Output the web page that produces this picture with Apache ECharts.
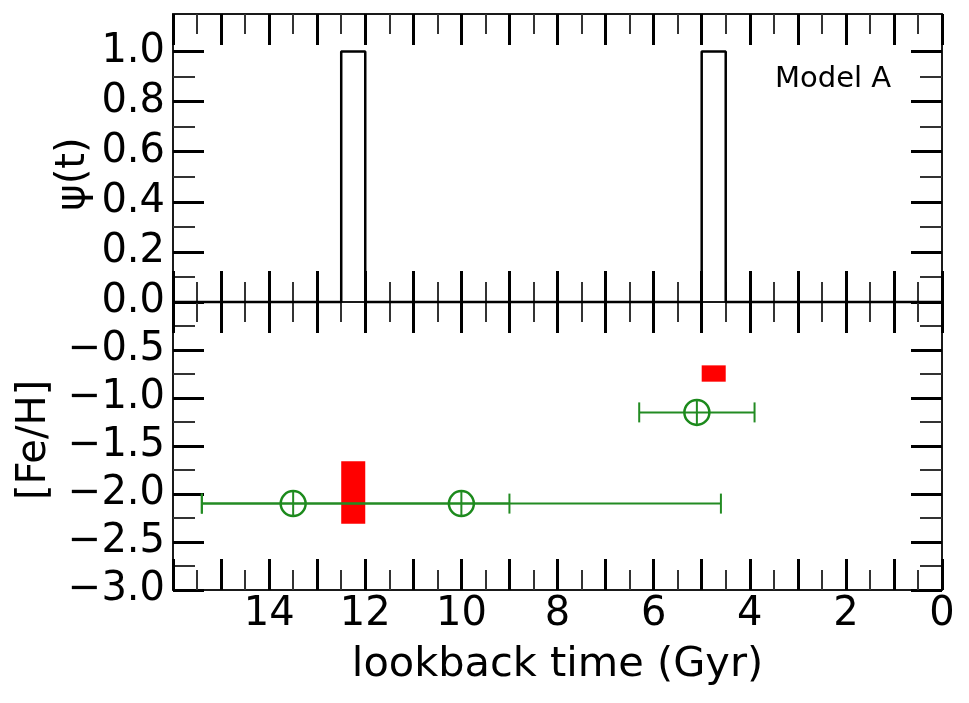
<!DOCTYPE html>
<html>
<head>
<meta charset="utf-8">
<script src="https://cdn.jsdelivr.net/npm/echarts@6/dist/echarts.min.js"></script>
<style>
html,body{margin:0;padding:0;background:#fff;}
#chart{width:969px;height:703px;}
</style>
</head>
<body>
<div id="chart"></div>
<script>
// ---- data ----
const ageMin = 0, ageMax = 16;
const ageTickLabels = [0, 2, 4, 6, 8, 10, 12, 14];
const psiMajorTicks = [0, 0.2, 0.4, 0.6, 0.8, 1.0];
const psiMinorTicks = [0.1, 0.3, 0.5, 0.7, 0.9];
const psiMax = 1.15;
const fehMin = -3.0, fehMax = 0.0;

// star-formation bursts (top panel)
const burstStart = [12.0, 4.5];
const burstEnd = [12.5, 5.0];
const burstHeight = [1.0, 1.0];

// model [Fe/H] boxes (red)
const boxAgeLo = [12.0, 4.5];
const boxAgeHi = [12.5, 5.0];
const boxFehLo = [-2.31, -0.83];
const boxFehHi = [-1.66, -0.66];

// observed populations (green)
const obsAge = [13.5, 10.0, 5.1];
const obsFeh = [-2.10, -2.10, -1.15];
const obsAgeLo = [9.0, 4.6, 3.9];
const obsAgeHi = [15.4, 15.4, 6.3];

// ---- build series data ----
const stepData = [[ageMax, 0]];
for (let i = 0; i < burstStart.length; i++) {
  stepData.push([burstEnd[i], 0], [burstEnd[i], burstHeight[i]], [burstStart[i], burstHeight[i]], [burstStart[i], 0]);
}
stepData.push([ageMin, 0]);

const boxData = boxAgeLo.map((v, i) => [v, boxAgeHi[i], boxFehLo[i], boxFehHi[i]]);
const obsData = obsAge.map((v, i) => [v, obsFeh[i], obsAgeLo[i], obsAgeHi[i]]);

const FONT = 'DejaVu Sans';
const AXC = '#1a1a1a';
const GREEN = '#238b23';

function fmt(v) { return v.toFixed(1).replace('-', '\u2212'); }

function xAxisCfg(grid, pos, showLabels) {
  return {
    type: 'value', gridIndex: grid, position: pos, min: ageMin, max: ageMax, inverse: true,
    interval: 1,
    axisLine: { show: true, onZero: false, lineStyle: { color: AXC, width: 2 } },
    axisTick: { show: true, inside: true, length: 31, lineStyle: { color: '#000', width: 3 } },
    minorTick: { show: true, splitNumber: 2, length: 20, lineStyle: { color: '#333', width: 2 } },
    splitLine: { show: false },
    axisLabel: showLabels ? {
      show: true, customValues: ageTickLabels, margin: 5,
      fontFamily: FONT, fontSize: 40, color: '#000', formatter: v => String(Math.round(v))
    } : { show: false }
  };
}

function yMajorPsi(pos, showLabels) {
  return {
    type: 'value', gridIndex: 0, position: pos, min: 0, max: psiMax,
    axisLine: { show: true, onZero: false, lineStyle: { color: AXC, width: 2 } },
    axisTick: { show: true, inside: true, length: 31, customValues: psiMajorTicks, lineStyle: { color: '#000', width: 3 } },
    splitLine: { show: false },
    axisLabel: showLabels ? {
      show: true, customValues: psiMajorTicks, margin: 8,
      fontFamily: FONT, fontSize: 40, color: '#000', formatter: fmt
    } : { show: false }
  };
}
function yMinorPsi(pos) {
  return {
    type: 'value', gridIndex: 2, position: pos, min: 0, max: psiMax,
    axisLine: { show: false, onZero: false },
    axisTick: { show: true, inside: true, length: 22, customValues: psiMinorTicks, lineStyle: { color: '#333', width: 2 } },
    splitLine: { show: false },
    axisLabel: { show: false }
  };
}
function yFeh(pos, showLabels) {
  return {
    type: 'value', gridIndex: 1, position: pos, min: fehMin, max: fehMax, interval: 0.5,
    axisLine: { show: true, onZero: false, lineStyle: { color: AXC, width: 2 } },
    axisTick: { show: true, inside: true, length: 31, lineStyle: { color: '#000', width: 3 } },
    minorTick: { show: true, splitNumber: 2, length: 22, lineStyle: { color: '#333', width: 2 } },
    splitLine: { show: false },
    axisLabel: showLabels ? {
      show: true, margin: 8, fontFamily: FONT, fontSize: 40, color: '#000',
      formatter: v => (Math.abs(v) < 1e-9 ? '' : fmt(v))
    } : { show: false }
  };
}

const chart = echarts.init(document.getElementById('chart'), null, { renderer: 'canvas' });

const option = {
  animation: false,
  backgroundColor: '#fff',
  grid: [
    { left: 173, right: 27, top: 14, height: 288 },
    { left: 173, right: 27, top: 302, height: 288 },
    { left: 173, right: 27, top: 14, height: 288 }
  ],
  xAxis: [
    xAxisCfg(0, 'bottom', false),
    xAxisCfg(0, 'top', false),
    Object.assign(xAxisCfg(1, 'bottom', true), {
      name: 'lookback time (Gyr)', nameLocation: 'middle', nameGap: 54,
      nameTextStyle: { fontFamily: FONT, fontSize: 41.5, color: '#000' }
    }),
    xAxisCfg(1, 'top', false),
    { type: 'value', gridIndex: 2, min: ageMin, max: ageMax, show: false }
  ],
  yAxis: [
    yMajorPsi('left', true),
    yMajorPsi('right', false),
    yFeh('left', true),
    yFeh('right', false),
    yMinorPsi('left'),
    yMinorPsi('right')
  ],
  graphic: [
    { type: 'text', x: 74, y: 174, rotation: Math.PI / 2,
      style: { text: '\u03C8(t)', font: '40px "DejaVu Sans"', fill: '#000', align: 'center', verticalAlign: 'middle' } },
    { type: 'text', x: 35, y: 440, rotation: Math.PI / 2,
      style: { text: '[Fe/H]', font: '40px "DejaVu Sans"', fill: '#000', align: 'center', verticalAlign: 'middle' } },
    { type: 'text', x: 775, y: 79,
      style: { text: 'Model A', font: '29px "DejaVu Sans"', fill: '#000', align: 'left', verticalAlign: 'middle' } }
  ],
  series: [
    {
      type: 'line', xAxisIndex: 0, yAxisIndex: 0, data: stepData,
      showSymbol: false, symbol: 'none', clip: false,
      lineStyle: { color: '#000', width: 2.5 }, z: 5
    },
    {
      type: 'custom', xAxisIndex: 2, yAxisIndex: 2, data: boxData, clip: true,
      renderItem: function (params, api) {
        const p0 = api.coord([api.value(0), api.value(3)]);
        const p1 = api.coord([api.value(1), api.value(2)]);
        return {
          type: 'rect',
          shape: { x: Math.min(p0[0], p1[0]), y: Math.min(p0[1], p1[1]),
                   width: Math.abs(p1[0] - p0[0]), height: Math.abs(p1[1] - p0[1]) },
          style: { fill: '#ff0000' }
        };
      },
      z: 3
    },
    {
      type: 'custom', xAxisIndex: 2, yAxisIndex: 2, data: obsData, clip: false,
      renderItem: function (params, api) {
        const c = api.coord([api.value(0), api.value(1)]);
        const lo = api.coord([api.value(2), api.value(1)]);
        const hi = api.coord([api.value(3), api.value(1)]);
        const cap = 10, r = 12.5;
        const ls = { stroke: GREEN, lineWidth: 2 };
        return {
          type: 'group',
          children: [
            { type: 'line', shape: { x1: lo[0], y1: lo[1], x2: hi[0], y2: hi[1] }, style: ls },
            { type: 'line', shape: { x1: lo[0], y1: lo[1] - cap, x2: lo[0], y2: lo[1] + cap }, style: ls },
            { type: 'line', shape: { x1: hi[0], y1: hi[1] - cap, x2: hi[0], y2: hi[1] + cap }, style: ls },
            { type: 'circle', shape: { cx: c[0], cy: c[1], r: r }, style: { fill: 'none', stroke: '#1c8a1c', lineWidth: 2.5 } },
            { type: 'line', shape: { x1: c[0], y1: c[1] - r, x2: c[0], y2: c[1] + r }, style: ls }
          ]
        };
      },
      z: 4
    }
  ]
};
chart.setOption(option);
</script>
</body>
</html>
